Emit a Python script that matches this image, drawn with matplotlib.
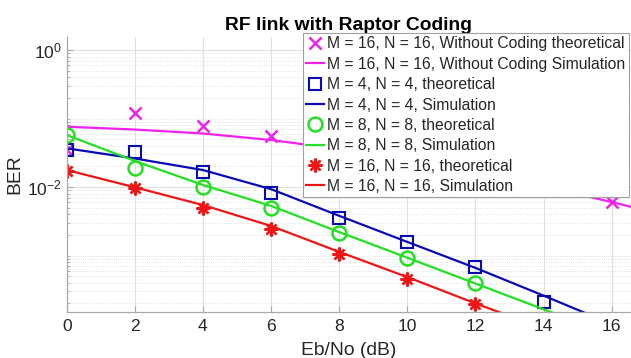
import matplotlib
matplotlib.use("Agg")
import matplotlib.pyplot as plt
from matplotlib.ticker import LogLocator, NullFormatter, LogFormatterSciNotation

plt.rcParams['font.family'] = ['Liberation Sans', 'DejaVu Sans']
plt.rcParams['mathtext.fontset'] = 'custom'
plt.rcParams['mathtext.rm'] = 'Liberation Sans'
plt.rcParams['mathtext.it'] = 'Liberation Sans:italic'
plt.rcParams['mathtext.bf'] = 'Liberation Sans:bold'

# Eb/No grid (dB) for the theoretical points and the simulated curves
snr_theory = [0, 2, 4, 6, 8, 10, 12, 14, 16]
snr_sim = [0, 2, 4, 6, 8, 10, 12, 14, 16, 18]

# M = 16, N = 16 without coding
uncoded_theory = [0.0347, 0.119, 0.0785, 0.056, 0.037, 0.024, 0.0155, 0.0098, 0.0061]
uncoded_sim = [0.0759, 0.0690, 0.0604, 0.0485, 0.0359, 0.0248, 0.0163, 0.0102, 0.00604, 0.00341]

# Raptor coded, M = 4, N = 4
m4_theory = [0.0347, 0.0321, 0.01644, 0.00826, 0.00356, 0.00159, 6.73e-4, 2.12e-4, 9e-5]
m4_sim = [0.0367, 0.0261, 0.0177, 0.0093, 0.0038, 0.00158, 6.6e-4, 2.6e-4, 1.0e-4, 4e-5]

# Raptor coded, M = 8, N = 8
m8_theory = [0.0574, 0.0191, 0.0101, 0.00499, 0.00211, 9.29e-4, 3.93e-4, 1.1e-4, 5e-5]
m8_sim = [0.0574, 0.0240, 0.0107, 0.0053, 0.0022, 9.3e-4, 3.9e-4, 1.64e-4, 7e-5, 3e-5]

# Raptor coded, M = 16, N = 16
m16_theory = [0.01714, 0.00958, 0.00489, 0.00244, 0.00104, 4.54e-4, 1.96e-4, 8e-5, 3.5e-5]
m16_sim = [0.0177, 0.0099, 0.00546, 0.0027, 0.00113, 4.85e-4, 2.0e-4, 8.6e-5, 3.7e-5, 1.6e-5]

labels = [
    "M = 16, N = 16, Without Coding theoretical",
    "M = 16, N = 16, Without Coding Simulation",
    "M = 4, N = 4, theoretical",
    "M = 4, N = 4, Simulation",
    "M = 8, N = 8, theoretical",
    "M = 8, N = 8, Simulation",
    "M = 16, N = 16, theoretical",
    "M = 16, N = 16, Simulation",
]

MAGENTA = '#ee22ee'
BLUE = '#0a0ab4'
GREEN = '#22e022'
RED = '#ee1515'

W, H = 631, 358
fig = plt.figure(figsize=(W / 100, H / 100), dpi=100)
ax_left, ax_bottom, ax_top = 66.7, 46.3, 321.3
ax = fig.add_axes([ax_left / W, ax_bottom / H, (W - ax_left) / W, (ax_top - ax_bottom) / H])
ax.set_yscale('log')

lw = 1.6
ax.plot(snr_theory, uncoded_theory, linestyle='none', marker='x', ms=8.5, mew=1.8,
        color=MAGENTA, label=labels[0])
ax.plot(snr_sim, uncoded_sim, '-', lw=lw, color=MAGENTA, label=labels[1])
ax.plot(snr_theory, m4_theory, linestyle='none', marker='s', ms=8, mew=1.5,
        mfc='none', color=BLUE, label=labels[2])
ax.plot(snr_sim, m4_sim, '-', lw=lw, color=BLUE, label=labels[3])
ax.plot(snr_theory, m8_theory, linestyle='none', marker='o', ms=10, mew=1.8,
        mfc='none', color=GREEN, label=labels[4])
ax.plot(snr_sim, m8_sim, '-', lw=lw, color=GREEN, label=labels[5])
ax.plot(snr_theory, m16_theory, linestyle='none', marker=(8, 2, 0), ms=10, mew=1.7,
        color=RED, label=labels[6])
ax.plot(snr_sim, m16_sim, '-', lw=lw, color=RED, label=labels[7])

ax.set_xticks(snr_theory)
ax.set_yticks([1e-4, 1e-2, 1e0])
ax.yaxis.set_major_formatter(LogFormatterSciNotation())
ax.yaxis.set_minor_locator(LogLocator(base=10, subs=range(1, 10), numticks=50))
ax.yaxis.set_minor_formatter(NullFormatter())

ax.set_xlim(0, (W - ax_left) / 34.06)
ax.set_ylim(1.514e-4, 1.563)

for side in ('top', 'right'):
    ax.spines[side].set_visible(False)
for side in ('left', 'bottom'):
    ax.spines[side].set_color('#a8a8a8')
    ax.spines[side].set_linewidth(0.9)

tick_pt = 12.6
ax.tick_params(which='both', direction='in', color='#a8a8a8', labelcolor='#262626')
ax.tick_params(which='major', length=4, labelsize=tick_pt)
ax.tick_params(which='minor', length=2)
ax.tick_params(axis='x', pad=5)
ax.tick_params(axis='y', pad=3.5)

ax.grid(which='major', color='#e0e0e0', lw=0.8, ls='-')
ax.grid(which='minor', axis='y', color='#dadada', lw=0.6, ls=':')
ax.set_axisbelow(True)

ax.set_title("RF link with Raptor Coding", fontsize=13.9, fontweight='bold',
             color='black', pad=5)
ax.set_xlabel("Eb/No (dB)", fontsize=13.9, color='#262626', va='baseline')
ax.xaxis.set_label_coords(0.5, (3.0 - ax_bottom) / (ax_top - ax_bottom))
ax.set_ylabel("BER", fontsize=13.9, color='#262626', va='center')
ax.yaxis.set_label_coords((15 - ax_left) / (W - ax_left), 0.5)

leg = ax.legend(loc='upper left', bbox_to_anchor=(303 / W, 1 - 33.3 / H),
                bbox_transform=fig.transFigure, borderaxespad=0,
                fontsize=11.34, handlelength=1.15, handletextpad=0.2,
                borderpad=0.2, labelspacing=0.34, fancybox=False,
                framealpha=1, edgecolor='#a0a0a0', numpoints=1)
leg.get_frame().set_linewidth(0.8)
for t in leg.get_texts():
    t.set_color('#262626')

fig.savefig("out.png", dpi=100)
